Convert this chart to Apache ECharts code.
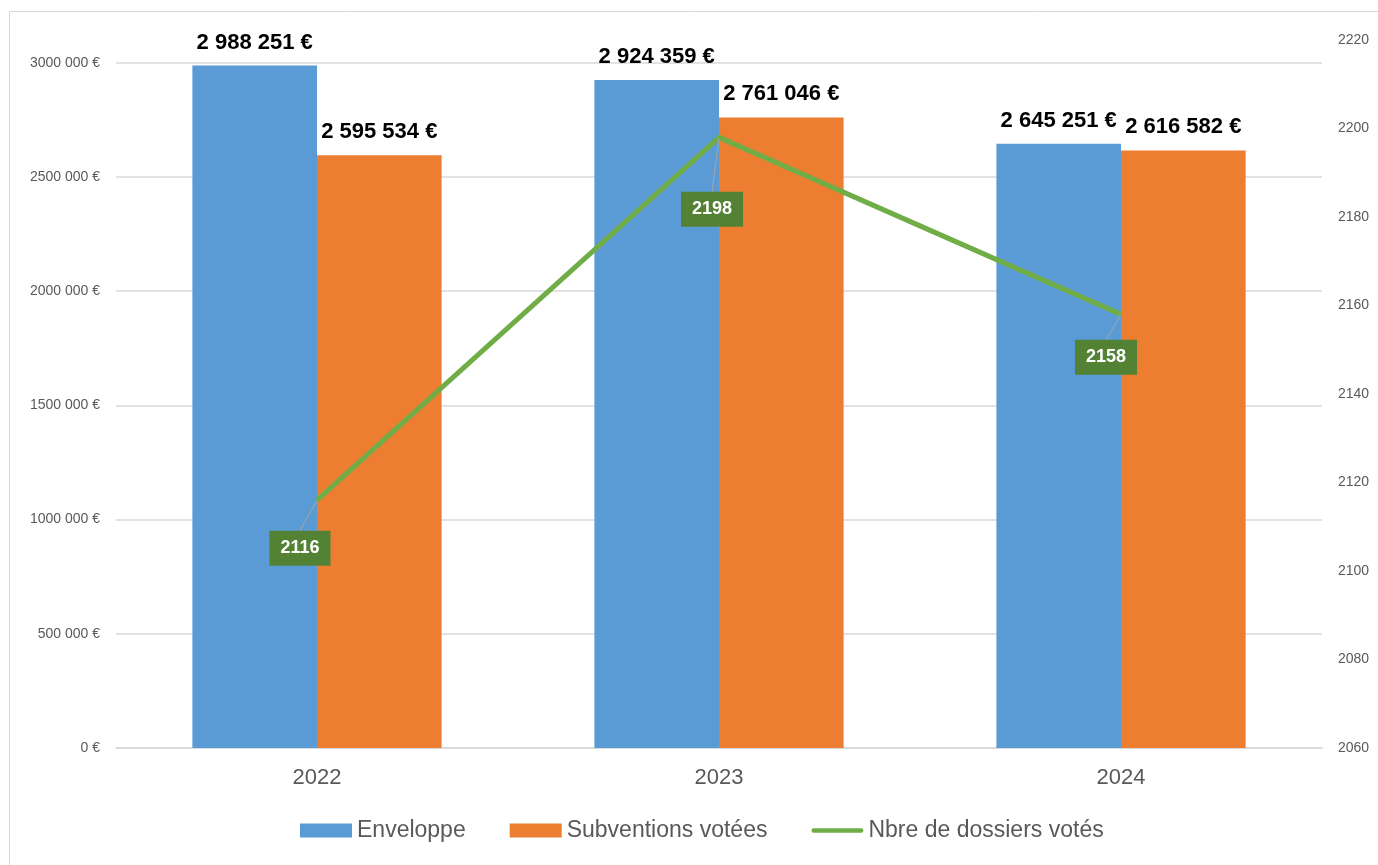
<!DOCTYPE html>
<html>
<head>
<meta charset="utf-8">
<script src="https://cdn.jsdelivr.net/npm/echarts@6/dist/echarts.min.js"></script>
<style>
  html, body { margin: 0; padding: 0; background: #fff; }
  #chart { width: 1378px; height: 865px; }
</style>
</head>
<body>
<div id="chart"></div>
<script>
// data
const years = ['2022', '2023', '2024'];
const enveloppe = [2988251, 2924359, 2645251];
const subventions = [2595534, 2761046, 2616582];
const dossiers = [2116, 2198, 2158];

// label nudges for the green boxes (dx, dy in px)
const boxShift = [[-17, 48], [-7, 72], [-15, 43]];

function euro(v) {
	// "2 988 251 €"
	return String(v).replace(/\B(?=(\d{3})+(?!\d))/g, ' ') + ' €';
}

function axisEuro(v) {
	// Excel style used on the axis: "3000 000 €"
	if (v < 1000) return v + ' €';
	let head = Math.floor(v / 1000);
	let tail = String(v % 1000).padStart(3, '0');
	return head + ' ' + tail + ' €';
}

var barLabel = {
	show: true,
	position: 'top',
	distance: 12,
	fontSize: 22,
	fontWeight: 'bold',
	color: '#000',
	formatter: (p) => euro(p.value),
};

var myChart = echarts.init(document.getElementById('chart'));
var option = {
	animation: false,
	textStyle: { fontFamily: 'Liberation Sans, Arial, sans-serif' },
	graphic: [
		{
			type: 'rect',
			shape: { x: 9.5, y: 11.5, width: 1400, height: 900 },
			style: { fill: 'none', stroke: '#d9d9d9', lineWidth: 1 },
			silent: true,
		},
	],
	grid: { left: 116, right: 56, top: 40, bottom: 117 },
	legend: {
		bottom: 18,
		left: 295,
		itemWidth: 52,
		itemHeight: 14,
		itemGap: 44,
		textStyle: { fontSize: 23, color: '#595959', padding: [0, 0, 0, 0] },
		data: [
			{ name: 'Enveloppe', icon: 'rect' },
			{ name: 'Subventions votées', icon: 'rect' },
			{ name: 'Nbre de dossiers votés', icon: 'path://M2.5,0H53.5A2.5,2.5 0 0 1 53.5,5H2.5A2.5,2.5 0 0 1 2.5,0Z' },
		],
	},
	xAxis: {
		type: 'category',
		data: years,
		axisTick: { show: false },
		axisLine: { lineStyle: { color: '#d9d9d9', width: 1.5 } },
		axisLabel: { fontSize: 22, color: '#595959', margin: 19 },
	},
	yAxis: [
		{
			type: 'value',
			min: 0,
			max: 3100000,
			interval: 500000,
			axisLabel: {
				fontSize: 14,
				color: '#595959',
				margin: 16,
				showMaxLabel: false,
				formatter: axisEuro,
			},
			splitLine: { showMaxLine: false, lineStyle: { color: '#d9d9d9', width: 1.5 } },
		},
		{
			type: 'value',
			min: 2060,
			max: 2220,
			interval: 20,
			axisLabel: { fontSize: 14, color: '#595959', margin: 16, formatter: (v) => String(v) },
			splitLine: { show: false },
		},
	],
	series: [
		{
			name: 'Enveloppe',
			type: 'bar',
			data: enveloppe,
			barGap: '0%',
			barCategoryGap: '38%',
			itemStyle: { color: '#5b9bd5' },
			label: barLabel,
		},
		{
			name: 'Subventions votées',
			type: 'bar',
			data: subventions,
			itemStyle: { color: '#ed7d31' },
			label: barLabel,
		},
		{
			name: 'Nbre de dossiers votés',
			type: 'line',
			yAxisIndex: 1,
			data: dossiers,
			symbol: 'circle',
			symbolSize: 2,
			z: 5,
			itemStyle: { color: '#70ad47' },
			lineStyle: { color: '#70ad47', width: 5 },
			label: {
				show: true,
				position: 'inside',
				fontSize: 18,
				fontWeight: 'bold',
				color: '#fff',
				backgroundColor: '#548235',
				padding: [9, 11, 8, 11],
			},
			labelLine: {
				show: true,
				lineStyle: { color: '#a6a6a6', width: 1 },
			},
			labelLayout: function(params) {
				let s = boxShift[params.dataIndex];
				return { dx: s[0], dy: s[1] };
			},
		},
	],
};
option && myChart.setOption(option);
</script>
</body>
</html>
